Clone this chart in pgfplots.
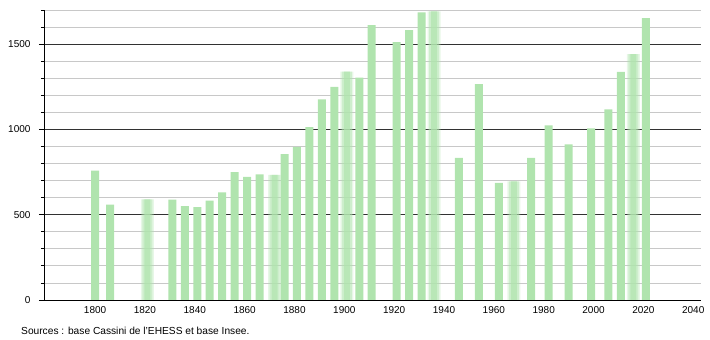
\documentclass[border=0pt]{standalone}
\usepackage{pgfplots}
\pgfplotsset{compat=1.18}
\usepackage{fontspec}
\setmainfont{Liberation Sans}
\definecolor{barg}{RGB}{176,228,174}
\definecolor{majg}{RGB}{50,50,50}
\definecolor{ming}{RGB}{200,200,200}
\begin{document}
\begin{tikzpicture}[x=1pt,y=1pt]
\path[use as bounding box] (-44,-40) rectangle (666,300);
\begin{axis}[
  at={(0,0)}, anchor=south west,
  scale only axis, width=656.7pt, height=290pt,
  xmin=1779.5, xmax=2043, ymin=0, ymax=1700,
  axis lines=left, axis line style={-, black, line width=0.8pt},
  xtick={1800,1820,...,2040}, xtick style={draw=none},
  ytick={0,500,1000,1500}, minor ytick={100,200,300,400,600,700,800,900,1100,1200,1300,1400,1600,1700},
  ymajorgrids, yminorgrids,
  major grid style={majg, line width=0.8pt},
  minor grid style={ming, line width=0.8pt},
  ytick style={black, line width=0.8pt},
  major tick length=5pt, minor tick length=3pt,
  tick align=outside,
  tick label style={font=\fontsize{10}{11}\selectfont},
  /pgf/number format/assume math mode=true,
  /pgf/number format/1000 sep={},
  xticklabel style={yshift=2.5pt},
  yticklabel style={xshift=-5pt},
  clip=false,
]
% normal bars
\addplot[ybar, bar width=8pt, bar shift=0pt, fill=barg, draw=none] coordinates {
(1800,759) (1806,559) (1831,588) (1836,550) (1841,545) (1846,582) (1851,631)
(1856,749) (1861,722) (1866,737) (1876,855) (1881,897) (1886,1014) (1891,1176)
(1896,1249) (1906,1304) (1911,1612) (1921,1512) (1926,1582) (1931,1686)
(1946,833) (1954,1265) (1962,686) (1975,833) (1982,1024) (1990,912)
(1999,1006) (2006,1118) (2011,1337) (2021,1653)
};
% soft-edged bars (three layers)
\addplot[ybar, bar width=13pt, bar shift=0pt, fill=barg, fill opacity=0.3, draw=none] coordinates {
(1821,590) (1872,733) (1901,1339) (1936,1692) (1968,696) (2016,1441)
};
\addplot[ybar, bar width=10pt, bar shift=0pt, fill=barg, fill opacity=0.45, draw=none] coordinates {
(1821,590) (1872,733) (1901,1339) (1936,1692) (1968,696) (2016,1441)
};
\addplot[ybar, bar width=6pt, bar shift=0pt, fill=barg, fill opacity=0.7, draw=none] coordinates {
(1821,590) (1872,733) (1901,1339) (1936,1692) (1968,696) (2016,1441)
};
\end{axis}
\node[anchor=base west, font=\fontsize{10.2}{12}\selectfont, inner sep=0pt] at (-23,-34.5) {Sources : base Cassini de l'EHESS et base Insee.};
\end{tikzpicture}
\end{document}
